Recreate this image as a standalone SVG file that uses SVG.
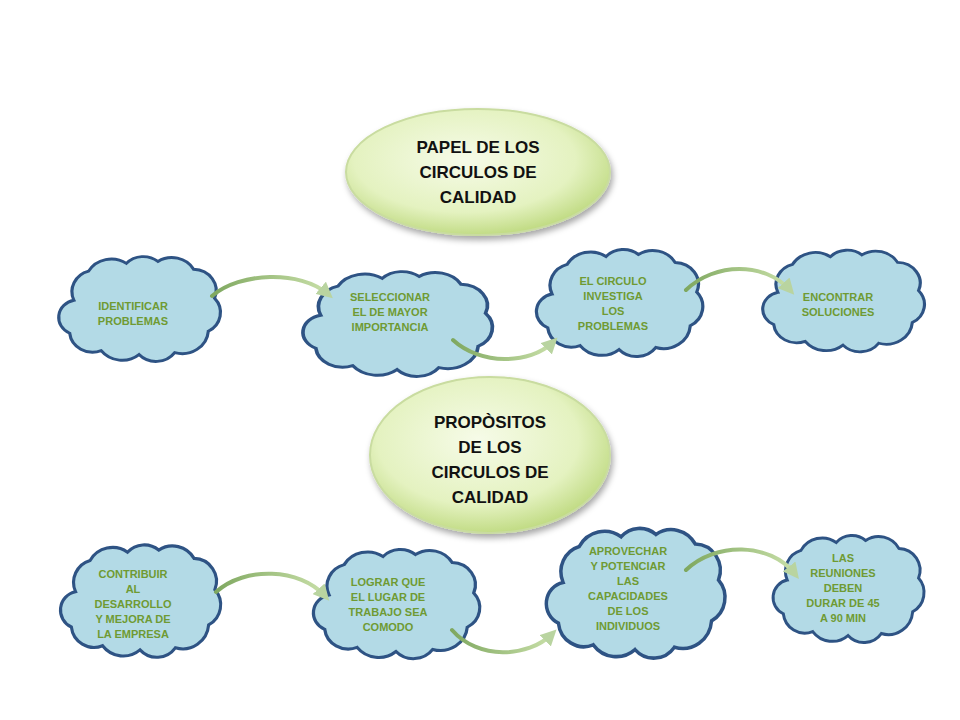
<svg xmlns="http://www.w3.org/2000/svg" width="960" height="720" viewBox="0 0 960 720">
<defs>
<style>
.cloud{fill:#b3dae6;stroke:#2e5384;stroke-width:3;vector-effect:non-scaling-stroke}
.ct{font-family:"Liberation Sans",Arial,sans-serif;font-weight:bold;font-size:11px;fill:#6f9a33;text-anchor:middle}
.tt{font-family:"Liberation Sans",Arial,sans-serif;font-weight:bold;font-size:17px;fill:#111;text-anchor:middle}
.ell{fill:url(#eg);stroke:#c9dca0;stroke-width:2}
.arr{fill:none;stroke:url(#ag);stroke-width:4;stroke-linecap:round;marker-end:url(#ah)}
</style>
<radialGradient id="eg" cx="0.45" cy="0.4" r="0.6">
<stop offset="0" stop-color="#f6fbe8"/><stop offset="0.7" stop-color="#e4f2c0"/><stop offset="1" stop-color="#c2dc86"/>
</radialGradient>
<linearGradient id="ag" x1="0" y1="0" x2="1" y2="0">
<stop offset="0" stop-color="#7fa860"/><stop offset="1" stop-color="#c8dfa8"/>
</linearGradient>
<marker id="ah" viewBox="0 0 10 10" refX="6" refY="5" markerWidth="4" markerHeight="4" orient="auto">
<path d="M0,0 L10,5 L0,10 Z" fill="#b9d4a0"/>
</marker>
<filter id="sh" x="-20%" y="-20%" width="140%" height="150%">
<feDropShadow dx="2" dy="4" stdDeviation="3" flood-color="#000" flood-opacity="0.35"/>
</filter>
<path id="cl" d="M -62,-8 A 22,22 0 0 1 -48,-38 A 25,25 0 0 1 -12,-46 A 22,22 0 0 1 18,-48 A 24,24 0 0 1 52,-40 A 22,22 0 0 1 72,-10 A 22,22 0 0 1 66,24 A 25,25 0 0 1 34,46 A 22,22 0 0 1 0,48 A 25,25 0 0 1 -36,44 A 22,22 0 0 1 -66,26 A 18,18 0 0 1 -62,-8 Z"/>
</defs>
<rect width="960" height="720" fill="#fff"/>
<g id="t1"><ellipse class="ell" cx="478" cy="172" rx="132" ry="63" filter="url(#sh)"/>
<text class="tt" x="478" y="153">PAPEL DE LOS</text><text class="tt" x="478" y="178">CIRCULOS DE</text><text class="tt" x="478" y="203">CALIDAD</text></g>
<g id="t2"><ellipse class="ell" cx="490" cy="455" rx="120" ry="78" filter="url(#sh)"/>
<text class="tt" x="490" y="428">PROPÒSITOS</text><text class="tt" x="490" y="453">DE LOS</text><text class="tt" x="490" y="478">CIRCULOS DE</text><text class="tt" x="490" y="503">CALIDAD</text></g>
<g id="n1"><use href="#cl" class="cloud" transform="translate(139,308) scale(1.05,0.97)"/>
<text class="ct" x="133" y="310">IDENTIFICAR</text><text class="ct" x="133" y="325">PROBLEMAS</text></g>
<g id="n2"><use href="#cl" class="cloud" transform="translate(397,323) scale(1.23,0.97)"/>
<text class="ct" x="390" y="301">SELECCIONAR</text><text class="ct" x="390" y="316">EL DE MAYOR</text><text class="ct" x="390" y="331">IMPORTANCIA</text></g>
<g id="n3"><use href="#cl" class="cloud" transform="translate(619,302) scale(1.08,0.99)"/>
<text class="ct" x="613" y="285">EL CIRCULO</text><text class="ct" x="613" y="300">INVESTIGA</text><text class="ct" x="613" y="315">LOS</text><text class="ct" x="613" y="330">PROBLEMAS</text></g>
<g id="n4"><use href="#cl" class="cloud" transform="translate(843,300) scale(1.05,0.94)"/>
<text class="ct" x="838" y="301">ENCONTRAR</text><text class="ct" x="838" y="316">SOLUCIONES</text></g>
<g id="n5"><use href="#cl" class="cloud" transform="translate(140,600) scale(1.04,1.04)"/>
<text class="ct" x="133" y="578">CONTRIBUIR</text><text class="ct" x="133" y="593">AL</text><text class="ct" x="133" y="608">DESARROLLO</text><text class="ct" x="133" y="623">Y MEJORA DE</text><text class="ct" x="133" y="638">LA EMPRESA</text></g>
<g id="n6"><use href="#cl" class="cloud" transform="translate(396,603) scale(1.08,1.01)"/>
<text class="ct" x="388" y="586">LOGRAR QUE</text><text class="ct" x="388" y="601">EL LUGAR DE</text><text class="ct" x="388" y="616">TRABAJO SEA</text><text class="ct" x="388" y="631">COMODO</text></g>
<g id="n7"><use href="#cl" class="cloud" transform="translate(635,592) scale(1.16,1.2)"/>
<text class="ct" x="628" y="555">APROVECHAR</text><text class="ct" x="628" y="570">Y POTENCIAR</text><text class="ct" x="628" y="585">LAS</text><text class="ct" x="628" y="600">CAPACIDADES</text><text class="ct" x="628" y="615">DE LOS</text><text class="ct" x="628" y="630">INDIVIDUOS</text></g>
<g id="n8"><use href="#cl" class="cloud" transform="translate(848,588) scale(0.98,0.99)"/>
<text class="ct" x="843" y="562">LAS</text><text class="ct" x="843" y="577">REUNIONES</text><text class="ct" x="843" y="592">DEBEN</text><text class="ct" x="843" y="607">DURAR DE 45</text><text class="ct" x="843" y="622">A 90 MIN</text></g>
<g id="connectors">
<path class="arr" d="M212,296 C240,272 300,270 328,294"/>
<path class="arr" d="M453,340 C480,365 530,365 553,342"/>
<path class="arr" d="M686,290 C715,262 765,262 790,290"/>
<path class="arr" d="M216,592 C245,566 300,568 325,596"/>
<path class="arr" d="M452,630 C478,660 528,658 552,634"/>
<path class="arr" d="M686,570 C715,542 770,542 795,574"/>
</g>
</svg>
